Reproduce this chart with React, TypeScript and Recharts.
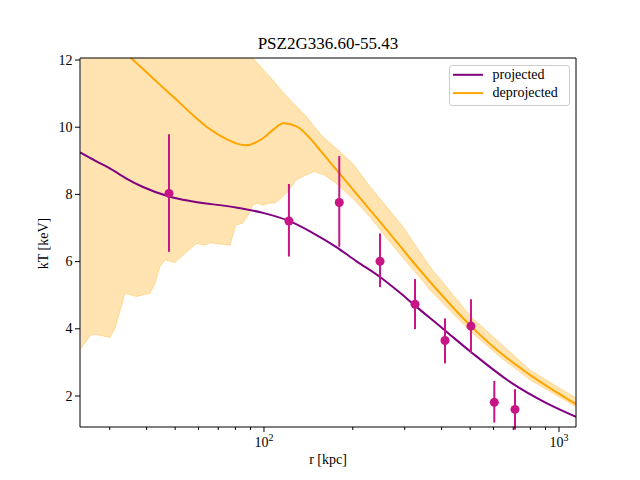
import React from 'react';
import { ComposedChart, XAxis, YAxis, Line, Area, Scatter, ErrorBar, Legend, ReferenceLine } from 'recharts';

// ---- data (r in kpc, kT in keV) ----
const bandR = [23.91, 25.72, 26.74, 30.06, 31.26, 33.8, 37.03, 41.08, 42.71, 44.41, 46.17, 49.92, 54.7, 59.15, 63.1, 65.61, 76.67, 80.36, 84.7, 89.18, 91.55, 95.2, 98.99, 104.2, 108.4, 112.7, 121.8, 128.4, 138.8, 148.1, 160.1, 175.4, 200.8, 228.8, 260.6, 295.9, 345.9, 365.4, 503.1, 631.0, 797.5, 1141.9];
const bandLo = [3.39, 3.79, 3.84, 3.74, 4.01, 5.06, 4.96, 5.06, 5.35, 5.85, 6.05, 5.97, 6.29, 6.54, 6.49, 6.56, 6.49, 7.09, 7.14, 7.44, 7.68, 7.74, 7.68, 7.74, 7.74, 7.83, 8.13, 8.43, 8.58, 8.68, 8.58, 8.33, 7.86, 7.33, 6.7, 6.11, 5.42, 5.15, 3.91, 3.16, 2.48, 1.68];
const bandHi = [13.5, 13.5, 13.5, 13.5, 13.5, 13.5, 13.5, 13.5, 13.5, 13.5, 13.5, 13.5, 13.5, 13.5, 13.5, 13.5, 13.5, 13.5, 12.39, 12.18, 12.06, 11.91, 11.73, 11.52, 11.35, 11.17, 10.84, 10.63, 10.33, 10.01, 9.68, 9.38, 8.9, 8.23, 7.63, 7.04, 6.15, 5.85, 4.36, 3.58, 2.77, 1.94];

const projR = [23.79, 26.95, 29.83, 34.06, 38.9, 47.64, 57.45, 80.36, 99.22, 121.5, 146.6, 175.4, 206.7, 247.4, 289.1, 325.1, 365.4, 410.8, 503.1, 698.5, 896.8, 1141.9];
const projT = [9.25, 8.99, 8.79, 8.48, 8.22, 7.94, 7.79, 7.61, 7.45, 7.21, 6.85, 6.44, 6.0, 5.54, 5.07, 4.69, 4.32, 3.95, 3.31, 2.36, 1.81, 1.38];

const deprojR = [33.8, 35.41, 44.07, 50.3, 57.45, 65.12, 74.34, 80.36, 86.9, 99.22, 107.3, 116.0, 129.4, 146.6, 154.8, 167.4, 179.6, 200.3, 261.2, 312.5, 365.4, 503.1, 616.4, 797.5, 1141.9];
const deprojT = [12.22, 12.06, 11.29, 10.83, 10.36, 9.96, 9.65, 9.52, 9.46, 9.67, 9.92, 10.12, 10.02, 9.57, 9.32, 8.96, 8.64, 8.14, 6.94, 6.1, 5.4, 4.08, 3.37, 2.63, 1.76];

const obsR = [47.64, 121.5, 180.0, 247.4, 325.1, 410.8, 503.1, 603.6, 709.3];
const obsT = [8.03, 7.21, 7.76, 6.01, 4.73, 3.65, 4.08, 1.81, 1.6];
const obsErrLo = [1.74, 1.06, 1.32, 0.77, 0.74, 0.68, 0.81, 0.6, 0.6];
const obsErrHi = [1.76, 1.1, 1.38, 0.83, 0.75, 0.66, 0.8, 0.64, 0.6];

const xDomain: [number, number] = [23.79, 1142];
const yDomain: [number, number] = [1.077, 12.06];
const xTicks = [30, 40, 50, 60, 70, 80, 90, 100, 200, 300, 400, 500, 600, 700, 800, 900, 1000];
const xMajor = [100, 1000];
const yTicks = [2, 4, 6, 8, 10, 12];

const TITLE = 'PSZ2G336.60-55.43';
const XLABEL = 'r [kpc]';
const YLABEL = 'kT [keV]';
const LEGEND_ORDER = ['projected', 'deprojected'];

const FONT = "'Liberation Serif', 'DejaVu Serif', serif";

const bandData = bandR.map((r, i) => ({ r, lo: bandLo[i], hi: bandHi[i] }));
const projData = projR.map((r, i) => ({ r, t: projT[i] }));
const deprojData = deprojR.map((r, i) => ({ r, t: deprojT[i] }));
const obsData = obsR.map((r, i) => ({ r, t: obsT[i], err: [obsErrLo[i], obsErrHi[i]] }));

const XTick = (props: any) => {
  const { x, y, payload } = props;
  const v = payload.value;
  const major = xMajor.includes(v);
  return (
    <g>
      <line x1={x} x2={x} y1={y} y2={y + (major ? 5 : 3)} stroke="#000" strokeWidth={1} />
      {major && (
        <text x={x} y={y + 19.5} textAnchor="middle" fontFamily={FONT} fontSize={14} fill="#000">
          10<tspan dy={-5.5} fontSize={10}>{String(Math.round(Math.log10(v)))}</tspan>
        </text>
      )}
    </g>
  );
};

const YTick = (props: any) => {
  const { x, y, payload } = props;
  return (
    <g>
      <line x1={x - 5} x2={x} y1={y} y2={y} stroke="#000" strokeWidth={1} />
      <text x={x - 7.5} y={y + 4.7} textAnchor="end" fontFamily={FONT} fontSize={14} fill="#000">
        {payload.value}
      </text>
    </g>
  );
};

const TitleLabel = (props: any) => {
  const vb = props.viewBox || {};
  return (
    <text x={vb.x + vb.width / 2} y={vb.y - 9.5} textAnchor="middle" fontFamily={FONT} fontSize={17} fill="#000">
      {TITLE}
    </text>
  );
};

const XLabel = (props: any) => {
  const vb = props.viewBox || {};
  return (
    <text x={vb.x + vb.width / 2} y={vb.y + 37} textAnchor="middle" fontFamily={FONT} fontSize={14} fill="#000">
      {XLABEL}
    </text>
  );
};

const YLabel = (props: any) => {
  const vb = props.viewBox || {};
  const cx = vb.x + 47.5;
  const cy = vb.y + vb.height / 2 + 1;
  return (
    <text x={cx} y={cy} transform={`rotate(-90, ${cx}, ${cy})`} textAnchor="middle" fontFamily={FONT} fontSize={14} fill="#000">
      {YLABEL}
    </text>
  );
};

const LegendBox = (props: any) => {
  const items = (props.payload || [])
    .filter((p: any) => p.type !== 'none' && LEGEND_ORDER.includes(p.value))
    .sort((a: any, b: any) => LEGEND_ORDER.indexOf(a.value) - LEGEND_ORDER.indexOf(b.value));
  return (
    <svg width={121} height={41} style={{ display: 'block' }}>
      <rect x={0.5} y={0.5} width={120} height={40} rx={2.5} ry={2.5} fill="#fff" fillOpacity={0.8} stroke="#cccccc" strokeWidth={1} />
      {items.map((it: any, i: number) => (
        <g key={i}>
          <line x1={4} x2={34} y1={9.8 + i * 18.3} y2={9.8 + i * 18.3} stroke={it.color} strokeWidth={2} />
          <text x={43.5} y={13.8 + i * 18.3} fontFamily={FONT} fontSize={14} fill="#000">
            {it.value}
          </text>
        </g>
      ))}
    </svg>
  );
};

export default function App() {
  return (
    <div style={{ position: 'absolute', left: 0, top: 0, width: 640, height: 480, background: '#fff' }}>
      <ComposedChart width={640} height={480} margin={{ top: 58, right: 64, bottom: 0, left: 0 }}>
        <XAxis
          dataKey="r"
          type="number"
          scale="log"
          domain={xDomain}
          allowDataOverflow
          ticks={xTicks}
          interval={0}
          tick={<XTick />}
          tickLine={false}
          tickSize={0}
          tickMargin={0}
          height={53}
          axisLine={{ stroke: '#000', strokeWidth: 1 }}
          label={{ content: <XLabel /> }}
        />
        <YAxis
          type="number"
          domain={yDomain}
          allowDataOverflow
          ticks={yTicks}
          interval={0}
          tick={<YTick />}
          tickLine={false}
          tickSize={0}
          tickMargin={0}
          width={80}
          axisLine={{ stroke: '#000', strokeWidth: 1 }}
          label={{ content: <YLabel /> }}
        />
        <Legend
          layout="horizontal"
          verticalAlign="middle"
          align="center"
          content={<LegendBox />}
          wrapperStyle={{ position: 'absolute', left: 449, top: 65, width: 121, height: 41 }}
        />
        <Area
          data={bandData}
          dataKey={(d: any) => [d.lo, d.hi]}
          type="linear"
          stroke="#FFA500"
          strokeOpacity={0.3}
          strokeWidth={1}
          fill="#FFA500"
          fillOpacity={0.3}
          dot={false}
          activeDot={false}
          legendType="none"
          isAnimationActive={false}
        />
        <Line
          data={projData}
          dataKey="t"
          name="projected"
          type="monotone"
          stroke="#800080"
          strokeWidth={2}
          dot={false}
          activeDot={false}
          legendType="line"
          isAnimationActive={false}
        />
        <Line
          data={deprojData}
          dataKey="t"
          name="deprojected"
          type="monotone"
          stroke="#FFA500"
          strokeWidth={2}
          dot={false}
          activeDot={false}
          legendType="line"
          isAnimationActive={false}
        />
        <Scatter data={obsData} dataKey="t" fill="#C71585" legendType="none" isAnimationActive={false}>
          <ErrorBar dataKey="err" direction="y" width={0} stroke="#C71585" strokeWidth={2} isAnimationActive={false} />
        </Scatter>
        <ReferenceLine y={yDomain[1]} stroke="#000" strokeWidth={1} ifOverflow="visible" label={{ content: <TitleLabel /> }} />
        <ReferenceLine x={xDomain[1]} stroke="#000" strokeWidth={1} ifOverflow="visible" />
      </ComposedChart>
    </div>
  );
}
